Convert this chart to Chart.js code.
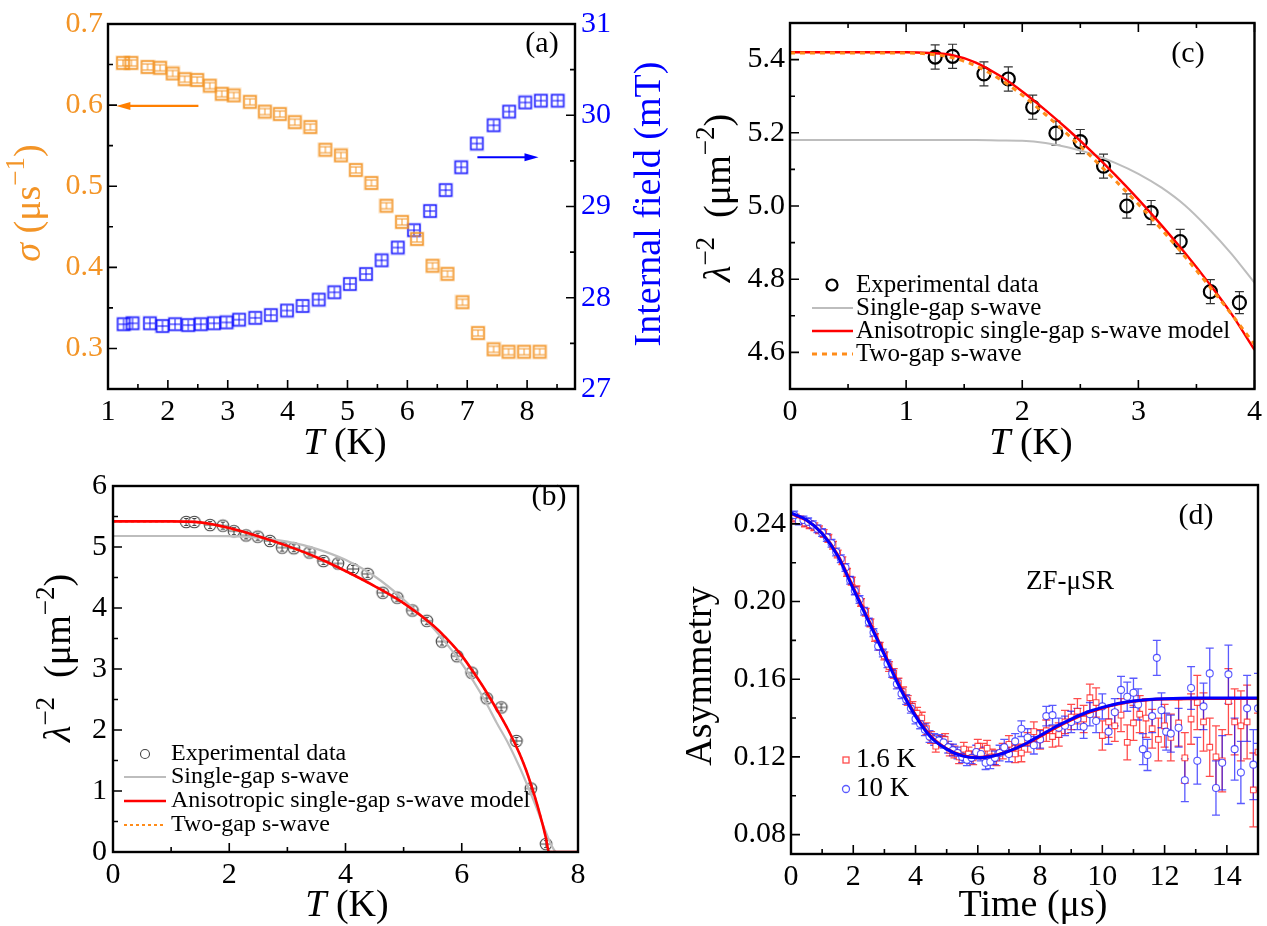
<!DOCTYPE html>
<html>
<head>
<meta charset="utf-8">
<script src="https://cdn.jsdelivr.net/npm/chart.js@4.4.1/dist/chart.umd.min.js"></script>
<style>
  body { margin: 0; background: #fff; width: 1267px; height: 926px; position: relative; overflow: hidden; }
  canvas { position: absolute; }
</style>
</head>
<body>
<canvas id="pa" width="680" height="462" style="left:0;top:0"></canvas>
<canvas id="pc" width="587" height="462" style="left:680px;top:0"></canvas>
<canvas id="pb" width="680" height="464" style="left:0;top:462px"></canvas>
<canvas id="pd" width="587" height="464" style="left:680px;top:462px"></canvas>
<script>
// (a) relaxation rate and internal field vs temperature
const sigmaT = [1.25,1.39,1.66,1.87,2.08,2.28,2.49,2.70,2.90,3.10,3.37,3.62,3.87,4.12,4.38,4.63,4.89,5.14,5.40,5.65,5.91,6.16,6.42,6.67,6.92,7.18,7.44,7.69,7.95,8.21];
const sigma  = [0.652,0.652,0.647,0.646,0.639,0.632,0.631,0.624,0.614,0.612,0.604,0.592,0.589,0.579,0.573,0.545,0.538,0.520,0.504,0.476,0.456,0.435,0.402,0.392,0.357,0.319,0.299,0.296,0.296,0.296];
const fieldT = [1.26,1.41,1.70,1.91,2.12,2.34,2.55,2.77,2.98,3.19,3.46,3.72,3.99,4.25,4.52,4.78,5.04,5.31,5.57,5.84,6.11,6.38,6.64,6.90,7.16,7.44,7.70,7.97,8.23,8.51];
const field  = [27.71,27.72,27.72,27.69,27.71,27.70,27.71,27.72,27.73,27.76,27.78,27.81,27.86,27.91,27.98,28.06,28.15,28.26,28.41,28.55,28.74,28.95,29.18,29.43,29.69,29.89,30.04,30.14,30.16,30.16];
const arrowSigma = {from: 2.51, to: 1.14, at: 0.599};
const arrowField = {from: 7.17, to: 8.19, at: 29.54};
const aTicksX = [1,2,3,4,5,6,7,8];
const aTicksSigma = [0.3,0.4,0.5,0.6,0.7];
const aTicksField = [27,28,29,30,31];

// (b) superfluid density, full range
const bT   = [1.26,1.40,1.67,1.89,2.08,2.29,2.49,2.70,2.91,3.11,3.38,3.62,3.87,4.13,4.38,4.64,4.89,5.15,5.40,5.66,5.92,6.17,6.43,6.68,6.94,7.19,7.45];
const bLam = [5.41,5.41,5.36,5.35,5.26,5.19,5.17,5.10,4.99,4.98,4.91,4.77,4.73,4.64,4.56,4.25,4.17,3.96,3.79,3.45,3.21,2.94,2.52,2.37,1.82,1.04,0.13];
const bFitT   = [0,0.5,1,1.5,2,2.5,3,3.5,4,4.5,5,5.5,5.75,6,6.2,6.4,6.6,6.8,7.0,7.1,7.2,7.3,7.4,7.45,7.5,7.55,7.6,7.62,7.7,8];
const bAniso  = [5.420,5.420,5.420,5.404,5.313,5.178,5.018,4.833,4.607,4.360,4.080,3.720,3.490,3.220,2.950,2.660,2.340,2.000,1.600,1.360,1.080,0.770,0.420,0.220,0,0,0,0,0,0];
const bSingle = [5.180,5.180,5.180,5.180,5.178,5.152,5.088,4.970,4.790,4.520,4.140,3.680,3.400,3.090,2.800,2.480,2.120,1.780,1.380,1.160,0.930,0.690,0.440,0.320,0.200,0.100,0.020,0,0,0];
const bTwoGap = [5.418,5.418,5.418,5.400,5.303,5.170,5.010,4.826,4.602,4.356,4.076,3.716,3.486,3.216,2.948,2.658,2.340,2.002,1.604,1.364,1.084,0.772,0.424,0.224,0,0,0,0,0,0];
const bTicksX = [0,2,4,6,8];
const bTicksY = [0,1,2,3,4,5,6];

// (c) low temperature zoom
const cT   = [1.25,1.40,1.67,1.88,2.09,2.29,2.50,2.70,2.90,3.11,3.36,3.62,3.87];
const cLam = [5.407,5.409,5.361,5.347,5.270,5.199,5.176,5.109,5.000,4.982,4.903,4.766,4.736];
const cErr = [0.033,0.033,0.033,0.033,0.033,0.033,0.033,0.033,0.033,0.033,0.033,0.033,0.030];
const cFitT   = [0,0.5,1.0,1.2,1.4,1.6,1.8,2.0,2.2,2.4,2.6,2.8,3.0,3.2,3.4,3.6,3.8,4.0];
const cAniso  = [5.420,5.420,5.420,5.418,5.412,5.392,5.357,5.313,5.262,5.207,5.148,5.085,5.018,4.947,4.872,4.792,4.706,4.607];
const cTwoGap = [5.418,5.418,5.418,5.415,5.405,5.383,5.348,5.303,5.250,5.193,5.133,5.070,5.005,4.936,4.862,4.785,4.705,4.622];
const cSingle = [5.180,5.180,5.180,5.180,5.180,5.180,5.179,5.178,5.172,5.160,5.142,5.118,5.088,5.050,5.002,4.940,4.870,4.790];
const cTicksX = [0,1,2,3,4];
const cTicksY = [4.6,4.8,5.0,5.2,5.4];

// (d) ZF-muSR asymmetry
const dRedT = [0.15,0.30,0.45,0.60,0.75,0.90,1.05,1.20,1.35,1.50,1.65,1.80,1.95,2.10,2.25,2.40,2.55,2.70,2.85,3.00,3.15,3.30,3.45,3.60,3.75,3.90,4.05,4.20,4.35,4.50,4.65,4.80,4.95,5.10,5.25,5.40,5.55,5.70,5.85,6.00,6.15,6.30,6.45,6.60,6.80,7.00,7.20,7.40,7.60,7.80,8.00,8.20,8.40,8.60,8.80,9.00,9.20,9.40,9.60,9.80,10.00,10.20,10.40,10.60,10.80,11.00,11.20,11.40,11.60,11.80,12.00,12.20,12.45,12.65,12.85,13.05,13.25,13.45,13.65,13.85,14.05,14.25,14.45,14.65,14.85,15.00];
const dRedA = [0.2430,0.2420,0.2405,0.2395,0.2385,0.2370,0.2350,0.2325,0.2290,0.2245,0.2210,0.2150,0.2105,0.2060,0.1995,0.1945,0.1890,0.1815,0.1770,0.1720,0.1665,0.1630,0.1580,0.1535,0.1490,0.1460,0.1425,0.1400,0.1345,0.1300,0.1255,0.1280,0.1290,0.1235,0.1225,0.1200,0.1240,0.1215,0.1195,0.1255,0.1230,0.1245,0.1200,0.1195,0.1230,0.1265,0.1215,0.1220,0.1275,0.1330,0.1290,0.1335,0.1305,0.1315,0.1380,0.1405,0.1435,0.1395,0.1505,0.1480,0.1310,0.1380,0.1360,0.1415,0.1275,0.1375,0.1420,0.1400,0.1345,0.1290,0.1360,0.1300,0.1375,0.1195,0.1395,0.1480,0.1380,0.1250,0.1200,0.1180,0.1485,0.1380,0.1360,0.1380,0.1030,0.1225];
const dRedE = [0.002,0.002,0.002,0.002,0.002,0.002,0.002,0.002,0.002,0.002,0.002,0.002,0.002,0.002,0.002,0.002,0.002,0.002,0.002,0.002,0.0025,0.0025,0.0025,0.0025,0.0025,0.0025,0.003,0.003,0.003,0.003,0.003,0.003,0.003,0.003,0.003,0.0035,0.0035,0.0035,0.0035,0.0035,0.004,0.004,0.004,0.004,0.004,0.0045,0.0045,0.0045,0.005,0.005,0.005,0.0055,0.0055,0.006,0.006,0.0065,0.0065,0.007,0.007,0.0075,0.0075,0.008,0.008,0.0085,0.009,0.009,0.0095,0.010,0.010,0.011,0.011,0.012,0.012,0.013,0.013,0.014,0.015,0.015,0.016,0.016,0.017,0.017,0.018,0.019,0.019,0.020];
const dBlueT = [0.10,0.25,0.40,0.55,0.70,0.85,1.00,1.15,1.30,1.45,1.60,1.75,1.90,2.05,2.20,2.35,2.50,2.65,2.80,2.95,3.10,3.25,3.40,3.55,3.70,3.85,4.00,4.15,4.30,4.45,4.60,4.75,4.90,5.05,5.20,5.35,5.50,5.65,5.80,5.95,6.10,6.25,6.40,6.55,6.70,6.85,7.00,7.20,7.40,7.60,7.80,8.00,8.20,8.40,8.60,8.80,9.00,9.20,9.40,9.60,9.80,10.00,10.20,10.40,10.60,10.80,11.00,11.15,11.30,11.45,11.60,11.75,11.90,12.05,12.20,12.45,12.65,12.85,13.05,13.25,13.45,13.65,13.85,14.05,14.25,14.45,14.65,14.85,15.00];
const dBlueA = [0.2445,0.2415,0.2420,0.2410,0.2395,0.2375,0.2355,0.2330,0.2300,0.2255,0.2220,0.2175,0.2110,0.2055,0.2010,0.1950,0.1895,0.1840,0.1770,0.1735,0.1680,0.1630,0.1575,0.1525,0.1495,0.1450,0.1395,0.1370,0.1340,0.1305,0.1290,0.1285,0.1275,0.1250,0.1235,0.1220,0.1200,0.1185,0.1195,0.1225,0.1215,0.1170,0.1175,0.1195,0.1220,0.1250,0.1215,0.1280,0.1345,0.1300,0.1260,0.1290,0.1410,0.1415,0.1350,0.1360,0.1380,0.1395,0.1355,0.1420,0.1385,0.1460,0.1330,0.1430,0.1545,0.1510,0.1530,0.1470,0.1240,0.1210,0.1410,0.1710,0.1440,0.1330,0.1320,0.1350,0.1080,0.1555,0.1180,0.1460,0.1630,0.1040,0.1170,0.1625,0.1240,0.1120,0.1450,0.1160,0.1450];
const dBlueE = [0.002,0.002,0.002,0.002,0.002,0.002,0.002,0.002,0.002,0.002,0.002,0.002,0.002,0.002,0.002,0.002,0.002,0.002,0.002,0.002,0.002,0.002,0.0025,0.0025,0.0025,0.0025,0.0025,0.0025,0.003,0.003,0.003,0.003,0.003,0.003,0.003,0.003,0.003,0.003,0.003,0.0035,0.0035,0.0035,0.0035,0.0035,0.004,0.004,0.004,0.004,0.004,0.0045,0.0045,0.0045,0.005,0.005,0.005,0.005,0.0055,0.0055,0.006,0.006,0.006,0.0065,0.0065,0.007,0.007,0.0075,0.0075,0.008,0.008,0.008,0.0085,0.009,0.009,0.0095,0.0095,0.010,0.011,0.011,0.012,0.012,0.013,0.014,0.014,0.015,0.016,0.016,0.017,0.018,0.018];
const dFitT  = [0,0.5,1,1.5,2,2.5,3,3.5,4,4.5,5,5.5,6,6.5,7,7.5,8,8.5,9,9.5,10,10.5,11,11.5,12,13,14,15];
const dFitRed  = [0.2452,0.2418,0.2352,0.2240,0.2072,0.1902,0.1732,0.1562,0.1415,0.1305,0.1242,0.1207,0.1197,0.1206,0.1230,0.1263,0.1305,0.1350,0.1390,0.1425,0.1452,0.1472,0.1486,0.1494,0.1498,0.1500,0.1501,0.1501];
const dFitBlue = [0.2455,0.2420,0.2350,0.2235,0.2065,0.1895,0.1725,0.1555,0.1410,0.1300,0.1240,0.1205,0.1195,0.1205,0.1230,0.1265,0.1310,0.1355,0.1395,0.1430,0.1455,0.1475,0.1488,0.1496,0.1500,0.1503,0.1503,0.1503];
const dTicksX = [0,2,4,6,8,10,12,14];
const dTicksY = [0.08,0.12,0.16,0.20,0.24];

const ORANGE = '#F39426';
const BLUE = '#0000FF';
const FONT = "'Liberation Serif', 'Times New Roman', serif";
const TICK_SIZE = 30;
const TITLE_SIZE = 38;
Chart.defaults.font.family = FONT;
Chart.defaults.color = '#000';

function xy(xs, ys) { return xs.map((x, i) => ({x: x, y: ys[i]})); }

function makeIcon(w, h, draw) {
  const c = document.createElement('canvas');
  c.width = w; c.height = h;
  draw(c.getContext('2d'));
  return c;
}

const iconSigma = makeIcon(16, 16, g => {
  g.strokeStyle = 'rgba(243,148,38,0.3)'; g.lineWidth = 3;
  g.strokeRect(2, 2, 12, 12);
  g.strokeStyle = ORANGE; g.lineWidth = 1.3;
  g.strokeRect(2, 2, 12, 12);
  g.lineWidth = 1;
  g.beginPath();
  g.moveTo(3, 5); g.lineTo(13, 5);
  g.moveTo(3, 11); g.lineTo(13, 11);
  g.moveTo(8, 5); g.lineTo(8, 11);
  g.stroke();
});
const iconField = makeIcon(16, 16, g => {
  g.strokeStyle = 'rgba(0,0,255,0.18)'; g.lineWidth = 3;
  g.strokeRect(2, 2, 12, 12);
  g.strokeStyle = BLUE; g.lineWidth = 1.2;
  g.strokeRect(2, 2, 12, 12);
  g.lineWidth = 1;
  g.beginPath();
  g.moveTo(8, 3); g.lineTo(8, 13);
  g.moveTo(3, 8); g.lineTo(13, 8);
  g.stroke();
});
const iconLam = makeIcon(16, 16, g => {
  g.strokeStyle = '#444'; g.lineWidth = 1.1;
  g.fillStyle = '#fff';
  g.beginPath(); g.arc(8, 8, 5.8, 0, Math.PI * 2); g.fill(); g.stroke();
  g.beginPath();
  g.moveTo(2.5, 8); g.lineTo(13.5, 8);
  g.moveTo(8, 4.5); g.lineTo(8, 11.5);
  g.moveTo(6, 4.5); g.lineTo(10, 4.5);
  g.moveTo(6, 11.5); g.lineTo(10, 11.5);
  g.stroke();
});

// rich text: parts = [[text, style]], style '' | 'i' (italic) | 's' (superscript)
function drawRich(ctx, parts, x, y, rot, size, color) {
  ctx.save();
  ctx.translate(x, y);
  ctx.rotate(rot);
  ctx.fillStyle = color;
  ctx.textBaseline = 'alphabetic';
  ctx.textAlign = 'left';
  const fonts = parts.map(p => (p[1] === 'i' ? 'italic ' : '') + Math.round(p[1] === 's' ? size * 0.7 : size) + 'px ' + FONT);
  let total = 0;
  const widths = parts.map((p, i) => { ctx.font = fonts[i]; const w = ctx.measureText(p[0]).width; total += w; return w; });
  let cx = -total / 2;
  parts.forEach((p, i) => {
    ctx.font = fonts[i];
    ctx.fillText(p[0], cx, p[1] === 's' ? -size * 0.08 : size * 0.33);
    cx += widths[i];
  });
  ctx.restore();
}

function axis(pos, min, max, tickValues, size, digits, pad, color) {
  return {
    type: 'linear', position: pos, min: min, max: max,
    afterFit: s => { if (s.isHorizontal()) s.height = size; else s.width = size; },
    afterBuildTicks: s => { s.ticks = tickValues.map(v => ({value: v})); },
    grid: {display: false, drawTicks: false},
    border: {display: false},
    ticks: {
      padding: pad, color: color || '#000',
      font: {size: TICK_SIZE}, maxRotation: 0, autoSkip: false,
      callback: v => Number(v).toFixed(digits)
    }
  };
}

// frame with inward major / minor ticks
const framePlugin = {
  id: 'frame',
  afterDraw(chart, args, opts) {
    const ctx = chart.ctx, a = chart.chartArea;
    ctx.save();
    ctx.strokeStyle = '#000';
    ctx.lineWidth = 1.6;
    Object.keys(opts.minor).forEach(id => {
      const s = chart.scales[id];
      const step = opts.minor[id];
      ctx.beginPath();
      for (let k = Math.ceil(s.min / step - 1e-6); k * step <= s.max + 1e-6; k++) {
        const v = k * step;
        const major = s.ticks.some(t => Math.abs(t.value - v) < step / 10);
        const len = major ? 9 : 5;
        const p = s.getPixelForValue(v);
        if (s.isHorizontal()) {
          ctx.moveTo(p, a.bottom); ctx.lineTo(p, a.bottom - len);
          if (opts.top) { ctx.moveTo(p, a.top); ctx.lineTo(p, a.top + len); }
        } else if (s.position === 'left') {
          ctx.moveTo(a.left, p); ctx.lineTo(a.left + len, p);
        } else {
          ctx.moveTo(a.right, p); ctx.lineTo(a.right - len, p);
        }
      }
      ctx.stroke();
    });
    ctx.lineWidth = 2.4;
    ctx.strokeRect(a.left, a.top, a.right - a.left, a.bottom - a.top);
    ctx.restore();
  }
};

// vertical error bars with caps
const errorPlugin = {
  id: 'errbars',
  beforeDatasetsDraw(chart) {
    const ctx = chart.ctx, a = chart.chartArea;
    ctx.save();
    ctx.beginPath(); ctx.rect(a.left, a.top, a.right - a.left, a.bottom - a.top); ctx.clip();
    chart.data.datasets.slice().reverse().forEach(ds => {
      if (!ds.errors) return;
      const meta = chart.getDatasetMeta(chart.data.datasets.indexOf(ds));
      const ys = chart.scales[meta.yAxisID];
      ctx.strokeStyle = ds.errorColor;
      ctx.lineWidth = ds.errorWidth;
      ctx.beginPath();
      meta.data.forEach((pt, j) => {
        const v = ds.data[j].y, e = ds.errors[j], c = ds.capWidth;
        const y1 = ys.getPixelForValue(v - e), y2 = ys.getPixelForValue(v + e);
        ctx.moveTo(pt.x, y1); ctx.lineTo(pt.x, y2);
        ctx.moveTo(pt.x - c, y1); ctx.lineTo(pt.x + c, y1);
        ctx.moveTo(pt.x - c, y2); ctx.lineTo(pt.x + c, y2);
      });
      ctx.stroke();
    });
    ctx.restore();
  }
};

function baseOptions(padTop, padRight, scales, minor, top) {
  return {
    responsive: false, animation: false, events: [],
    layout: {padding: {top: padTop, right: padRight, left: 0, bottom: 0}, autoPadding: false},
    plugins: {legend: {display: false}, tooltip: {enabled: false}, frame: {minor: minor, top: !!top}},
    scales: scales
  };
}

function fitLine(xs, ys, color, width, dash) {
  return {data: xy(xs, ys), showLine: true, pointRadius: 0, borderColor: color, borderWidth: width,
          borderDash: dash || [], cubicInterpolationMode: 'monotone', fill: false};
}

function arrow(ctx, x1, x2, y, color) {
  const dir = Math.sign(x2 - x1);
  ctx.save();
  ctx.strokeStyle = color; ctx.fillStyle = color; ctx.lineWidth = 2.2;
  ctx.beginPath(); ctx.moveTo(x1, y); ctx.lineTo(x2 - dir * 8, y); ctx.stroke();
  ctx.beginPath(); ctx.moveTo(x2, y); ctx.lineTo(x2 - dir * 14, y - 4); ctx.lineTo(x2 - dir * 14, y + 4); ctx.closePath(); ctx.fill();
  ctx.restore();
}

function legendText(ctx, text, x, y, size) {
  ctx.save();
  ctx.font = size + 'px ' + FONT;
  ctx.fillStyle = '#000';
  ctx.textBaseline = 'middle';
  ctx.fillText(text, x, y);
  ctx.restore();
}

function lineSample(ctx, x1, x2, y, color, width, dash) {
  ctx.save();
  ctx.strokeStyle = color; ctx.lineWidth = width; ctx.setLineDash(dash || []);
  ctx.beginPath(); ctx.moveTo(x1, y); ctx.lineTo(x2, y); ctx.stroke();
  ctx.restore();
}

const LAMBDA_TITLE = [['λ', 'i'], ['−2', 's'], ['  (μm', ''], ['−2', 's'], [')', '']];
const T_TITLE = [['T', 'i'], [' (K)', '']];

// ---------- panel (a)
new Chart(document.getElementById('pa'), {
  type: 'scatter',
  data: {datasets: [
    {data: xy(sigmaT, sigma), yAxisID: 'y', pointStyle: iconSigma, pointRadius: 7},
    {data: xy(fieldT, field), yAxisID: 'y2', pointStyle: iconField, pointRadius: 7}
  ]},
  options: baseOptions(16, 0, {
    x: axis('bottom', 1, 8.8, aTicksX, 73, 0, 5),
    y: axis('left', 0.25, 0.7, aTicksSigma, 108, 1, 5, ORANGE),
    y2: axis('right', 27, 31, aTicksField, 105, 0, 6, BLUE)
  }, {x: 0.5, y: 0.05, y2: 0.5}),
  plugins: [framePlugin, {
    id: 'decoA',
    afterDraw(chart) {
      const ctx = chart.ctx, s = chart.scales;
      arrow(ctx, s.x.getPixelForValue(arrowSigma.from), s.x.getPixelForValue(arrowSigma.to), s.y.getPixelForValue(arrowSigma.at), '#FF7F00');
      arrow(ctx, s.x.getPixelForValue(arrowField.from), s.x.getPixelForValue(arrowField.to), s.y2.getPixelForValue(arrowField.at), BLUE);
      drawRich(ctx, [['σ', 'i'], [' (μs', ''], ['−1', 's'], [')', '']], 27, 203, -Math.PI / 2, TITLE_SIZE, ORANGE);
      drawRich(ctx, [['Internal field (mT)', '']], 647, 204, -Math.PI / 2, TITLE_SIZE, BLUE);
      drawRich(ctx, T_TITLE, 345, 441, 0, TITLE_SIZE, '#000');
      drawRich(ctx, [['(a)', '']], 542, 42, 0, 30, '#000');
    }
  }]
});

// ---------- panel (c)
new Chart(document.getElementById('pc'), {
  type: 'scatter',
  data: {datasets: [
    fitLine(cFitT, cTwoGap, '#FF8C1A', 3, [5, 5]),
    fitLine(cFitT, cAniso, '#FF0000', 2.4),
    fitLine(cFitT, cSingle, '#BDBDBD', 2),
    {data: xy(cT, cLam), errors: cErr, errorColor: '#333', errorWidth: 1.2, capWidth: 4.5,
     pointStyle: 'circle', pointRadius: 6.5, borderWidth: 2.2, borderColor: '#000', backgroundColor: 'rgba(255,255,255,0)'}
  ]},
  options: baseOptions(16, 10, {
    x: axis('bottom', 0, 4, cTicksX, 73, 0, 5),
    y: axis('left', 4.5, 5.5, cTicksY, 110, 1, 5)
  }, {x: 0.5, y: 0.1}, true),
  plugins: [errorPlugin, framePlugin, {
    id: 'decoC',
    afterDraw(chart) {
      const ctx = chart.ctx;
      drawRich(ctx, LAMBDA_TITLE, 37, 198, -Math.PI / 2, TITLE_SIZE, '#000');
      drawRich(ctx, T_TITLE, 351, 441, 0, TITLE_SIZE, '#000');
      drawRich(ctx, [['(c)', '']], 508, 52, 0, 30, '#000');
      ctx.save();
      ctx.strokeStyle = '#000'; ctx.lineWidth = 2.2;
      ctx.beginPath(); ctx.arc(152, 285, 5.5, 0, Math.PI * 2); ctx.stroke();
      ctx.restore();
      legendText(ctx, 'Experimental data', 176, 285, 25);
      lineSample(ctx, 132, 173, 308, '#BDBDBD', 2);
      legendText(ctx, 'Single-gap s-wave', 176, 308, 25);
      lineSample(ctx, 132, 173, 331, '#FF0000', 2.4);
      legendText(ctx, 'Anisotropic single-gap s-wave model', 176, 331, 25);
      lineSample(ctx, 132, 173, 354, '#FF8C1A', 3, [5, 5]);
      legendText(ctx, 'Two-gap s-wave', 176, 354, 25);
    }
  }]
});

// ---------- panel (b)
new Chart(document.getElementById('pb'), {
  type: 'scatter',
  data: {datasets: [
    fitLine(bFitT, bAniso, '#FF0000', 2.6),
    fitLine(bFitT, bTwoGap, '#FF8C1A', 2, [3, 3]),
    fitLine(bFitT, bSingle, '#BDBDBD', 2.2),
    {data: xy(bT, bLam), pointStyle: iconLam, pointRadius: 7}
  ]},
  options: baseOptions(11, 102, {
    x: axis('bottom', 0, 8, bTicksX, 74, 0, 5),
    y: axis('left', 0, 6, bTicksY, 113, 0, 6)
  }, {x: 1, y: 0.5}),
  plugins: [framePlugin, {
    id: 'decoB',
    afterDraw(chart) {
      const ctx = chart.ctx;
      drawRich(ctx, LAMBDA_TITLE, 57, 196, -Math.PI / 2, TITLE_SIZE, '#000');
      drawRich(ctx, T_TITLE, 347, 441, 0, TITLE_SIZE, '#000');
      drawRich(ctx, [['(b)', '']], 549, 33, 0, 30, '#000');
      ctx.save();
      ctx.strokeStyle = '#444'; ctx.lineWidth = 1.1;
      ctx.beginPath(); ctx.arc(145, 292, 4.5, 0, Math.PI * 2); ctx.stroke();
      ctx.restore();
      legendText(ctx, 'Experimental data', 171, 292, 24);
      lineSample(ctx, 124, 166, 315, '#BDBDBD', 2.2);
      legendText(ctx, 'Single-gap s-wave', 171, 315, 24);
      lineSample(ctx, 124, 166, 339, '#FF0000', 2.6);
      legendText(ctx, 'Anisotropic single-gap s-wave model', 171, 339, 24);
      lineSample(ctx, 124, 166, 363, '#FF8C1A', 2, [3, 3]);
      legendText(ctx, 'Two-gap s-wave', 171, 363, 24);
    }
  }]
});

// ---------- panel (d)
const RED_T = 'rgba(255,0,0,0.7)';
const BLUE_T = 'rgba(20,20,255,0.7)';
new Chart(document.getElementById('pd'), {
  type: 'scatter',
  data: {datasets: [
    fitLine(dFitT, dFitBlue, '#0000FF', 3),
    fitLine(dFitT, dFitRed, '#FF0000', 3),
    {data: xy(dBlueT, dBlueA), errors: dBlueE, errorColor: BLUE_T, errorWidth: 1.3, capWidth: 4,
     pointStyle: 'circle', pointRadius: 3.5, borderWidth: 1.1, borderColor: BLUE_T, backgroundColor: '#fff'},
    {data: xy(dRedT, dRedA), errors: dRedE, errorColor: RED_T, errorWidth: 1.3, capWidth: 4,
     pointStyle: 'rect', pointRadius: 4, borderWidth: 1.1, borderColor: RED_T, backgroundColor: '#fff'}
  ]},
  options: baseOptions(14, 9, {
    x: axis('bottom', 0, 15, dTicksX, 72, 0, 5),
    y: axis('left', 0.07, 0.26, dTicksY, 111, 2, 5)
  }, {x: 1, y: 0.02}),
  plugins: [errorPlugin, framePlugin, {
    id: 'decoD',
    afterDraw(chart) {
      const ctx = chart.ctx;
      drawRich(ctx, [['Asymmetry', '']], 18, 214, -Math.PI / 2, TITLE_SIZE, '#000');
      drawRich(ctx, [['Time (μs)', '']], 353, 441, 0, TITLE_SIZE, '#000');
      drawRich(ctx, [['(d)', '']], 516, 52, 0, 30, '#000');
      drawRich(ctx, [['ZF-μSR', '']], 390, 118, 0, 27, '#000');
      ctx.save();
      ctx.lineWidth = 1.3;
      ctx.strokeStyle = RED_T; ctx.strokeRect(163, 295, 6, 6);
      ctx.strokeStyle = BLUE_T; ctx.beginPath(); ctx.arc(166, 327, 3.5, 0, Math.PI * 2); ctx.stroke();
      ctx.restore();
      legendText(ctx, '1.6 K', 176, 298, 27);
      legendText(ctx, '10 K', 176, 327, 27);
    }
  }]
});
</script>
</body>
</html>
